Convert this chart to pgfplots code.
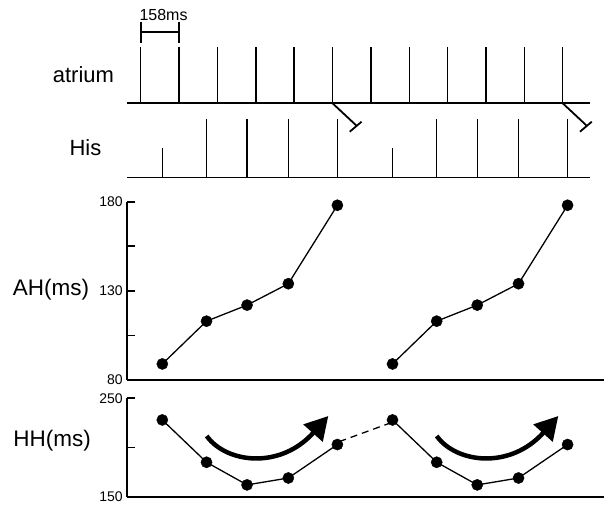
\documentclass[border=0pt]{standalone}
\usepackage{fontspec}
\setmainfont{Liberation Sans}
\usepackage{pgfplots}
\pgfplotsset{compat=1.18}
\usetikzlibrary{arrows.meta}
\begin{document}
\begin{tikzpicture}
\path[use as bounding box] (0bp,0bp) rectangle (604bp,507bp);
\pgfplotsset{
  panel/.style={scale only axis, width=476.65bp, xmin=-55, xmax=1908, clip=false,
    axis x line=bottom, axis y line=left, axis line style={-, line width=1.8bp},
    xtick=\empty, tick align=inside, major tick length=7.7bp,
    tick style={line width=1.8bp, black},
    tick label style={font=\fontsize{14bp}{14bp}\selectfont},
    yticklabel style={font=\fontsize{14bp}{14bp}\selectfont, inner sep=0pt, xshift=-4.5bp},
    /pgf/number format/assume math mode=true},
  dat/.style={black, line width=1.3bp, mark=*, mark size=5.6bp, mark options={fill=black, draw=black, line width=0.4bp}},
}
% ---------- ladder diagram ----------
\begin{axis}[at={(127.35bp,507bp)}, anchor=north west, scale only axis, width=476.65bp, height=190bp,
  xmin=-55, xmax=1908, ymin=0, ymax=190, y dir=reverse, hide axis, clip=false, unbounded coords=jump]
% baselines
\addplot[black, line width=1.8bp] coordinates {(-55,103.3) (1850,103.3)};
\addplot[black, line width=1.8bp] coordinates {(-55,177.5) (1850,177.5)};
% atrium spikes
\addplot[black, line width=1.5bp] coordinates {
(0,103.3) (0,46.7) (0,nan)
(158,103.3) (158,46.7) (158,nan)
(316,103.3) (316,46.7) (316,nan)
(474,103.3) (474,46.7) (474,nan)
(632,103.3) (632,46.7) (632,nan)
(790,103.3) (790,46.7) (790,nan)
(948,103.3) (948,46.7) (948,nan)
(1106,103.3) (1106,46.7) (1106,nan)
(1264,103.3) (1264,46.7) (1264,nan)
(1422,103.3) (1422,46.7) (1422,nan)
(1580,103.3) (1580,46.7) (1580,nan)
(1738,103.3) (1738,46.7)};
% His spikes
\addplot[black, line width=1.5bp] coordinates {
(89,177.5) (89,148.3) (89,nan)
(271,177.5) (271,119) (271,nan)
(438,177.5) (438,119) (438,nan)
(608,177.5) (608,119) (608,nan)
(810,177.5) (810,119) (810,nan)
(1037,177.5) (1037,148.3) (1037,nan)
(1219,177.5) (1219,119) (1219,nan)
(1386,177.5) (1386,119) (1386,nan)
(1556,177.5) (1556,119) (1556,nan)
(1758,177.5) (1758,119)};
% blocked conduction
\addplot[black, line width=1.8bp] coordinates {
(790,103.3) (885.8,125) (885.8,nan)
(861,131.7) (909.7,121.7) (909.7,nan)
(1738,103.3) (1833.8,125) (1833.8,nan)
(1809,131.7) (1857.7,121.7)};
% 158 ms bracket
\addplot[black, line width=1.7bp] coordinates {
(0,21.7) (0,43.3) (0,nan)
(158,21.7) (158,43.3) (158,nan)
(0,32.3) (158,32.3)};
\end{axis}
\node[anchor=base west, inner sep=0pt, font=\fontsize{16bp}{16bp}\selectfont] at (139.3bp,486.3bp) {158ms};
\node[anchor=base west, inner sep=0pt, font=\fontsize{22bp}{22bp}\selectfont] at (52.7bp,424.7bp) {atrium};
\node[anchor=base west, inner sep=0pt, font=\fontsize{22bp}{22bp}\selectfont] at (69.3bp,351bp) {His};

% ---------- AH panel ----------
\begin{axis}[panel, at={(127.35bp,127bp)}, anchor=south west, height=178.3bp,
  ymin=80, ymax=180, ytick={80,105,130,155,180}, yticklabels={80,,130,,180}]
\addplot[dat] coordinates {(89,89) (271,113) (438,122) (608,134) (810,178)};
\addplot[dat] coordinates {(1037,89) (1219,113) (1386,122) (1556,134) (1758,178)};
\end{axis}
\node[anchor=base west, inner sep=0pt, font=\fontsize{22.5bp}{22.5bp}\selectfont] at (12.7bp,211.3bp) {AH(ms)};

% ---------- HH panel ----------
\begin{axis}[panel, at={(127.35bp,10.3bp)}, anchor=south west, height=98.4bp,
  ymin=150, ymax=250, ytick={150,200,250}, yticklabels={150,,250}]
\addplot[dat] coordinates {(89,228) (271,185) (438,162) (608,169) (810,203)};
\addplot[black, line width=1.3bp, dash pattern=on 7bp off 5bp] coordinates {(818,206) (1029,225)};
\addplot[dat] coordinates {(1037,228) (1219,185) (1386,162) (1556,169) (1758,203)};
\draw[black, line width=4.5bp, -{Triangle[length=23bp, width=25bp]}]
  (axis cs:271.8,211.7) .. controls (axis cs:351.3,184.2) and (axis cs:573.7,177.1) .. (axis cs:772.6,232);
\draw[black, line width=4.5bp, -{Triangle[length=23bp, width=25bp]}]
  (axis cs:1219,211.7) .. controls (axis cs:1298.5,184.2) and (axis cs:1520.9,177.1) .. (axis cs:1719.8,232);
\end{axis}
\node[anchor=base west, inner sep=0pt, font=\fontsize{22.5bp}{22.5bp}\selectfont] at (13.3bp,60.3bp) {HH(ms)};
\end{tikzpicture}
\end{document}
